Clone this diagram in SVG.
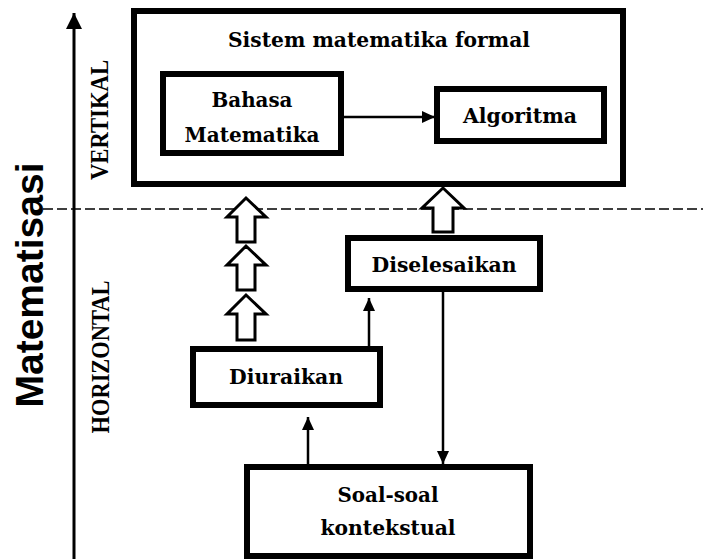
<svg xmlns="http://www.w3.org/2000/svg" width="703" height="559" viewBox="0 0 703 559">
<style>
.box{fill:#fff;stroke:#000;stroke-width:6;stroke-linejoin:miter}
.lbl{font-family:"DejaVu Serif","Liberation Serif",serif;font-weight:bold;font-size:20px;fill:#000;text-anchor:middle}
.side{font-family:"Liberation Serif",serif;font-weight:bold;font-size:25px;fill:#000;text-anchor:middle}
.con{stroke:#000;stroke-width:2.5;fill:none}
.hollow{fill:#fff;stroke:#000;stroke-width:3;stroke-linejoin:miter}
</style>
<defs>
<marker id="ah" markerUnits="userSpaceOnUse" markerWidth="13" markerHeight="12" refX="13" refY="6" orient="auto">
<path d="M0,0 L13,6 L0,12 z" fill="#000"/>
</marker>
<marker id="ahBig" markerUnits="userSpaceOnUse" markerWidth="16" markerHeight="16" refX="16" refY="8" orient="auto">
<path d="M0,0 L16,8 L0,16 z" fill="#000"/>
</marker>
</defs>
<rect width="703" height="559" fill="#fff"/>
<g id="axis">
<line x1="74" y1="559" x2="74" y2="13" stroke="#000" stroke-width="3" marker-end="url(#ahBig)"/>
<text x="0" y="0" transform="translate(43,285) rotate(-90)" font-family="'Liberation Sans',Arial,sans-serif" font-weight="bold" font-size="38" text-anchor="middle" textLength="245" lengthAdjust="spacingAndGlyphs">Matematisasi</text>
<text class="side" transform="translate(108,120) rotate(-90)" textLength="120" lengthAdjust="spacingAndGlyphs">VERTIKAL</text>
<text class="side" transform="translate(109,357) rotate(-90)" textLength="153" lengthAdjust="spacingAndGlyphs">HORIZONTAL</text>
<line x1="43" y1="209" x2="703" y2="209" stroke="#000" stroke-width="1.5" stroke-dasharray="10 4"/>
</g>
<g id="sistem">
<rect class="box" x="134" y="11" width="489" height="173"/>
<text class="lbl" x="379" y="47" textLength="302" lengthAdjust="spacingAndGlyphs">Sistem matematika formal</text>
</g>
<g id="bahasa">
<rect class="box" x="163" y="74" width="178" height="79"/>
<text class="lbl" x="252" y="107" textLength="81" lengthAdjust="spacingAndGlyphs">Bahasa</text>
<text class="lbl" x="252" y="142" textLength="135" lengthAdjust="spacingAndGlyphs">Matematika</text>
</g>
<g id="algoritma">
<rect class="box" x="437" y="89" width="167" height="52"/>
<text class="lbl" x="520" y="123" textLength="114" lengthAdjust="spacingAndGlyphs">Algoritma</text>
</g>
<g id="diselesaikan">
<rect class="box" x="348" y="238" width="192" height="51"/>
<text class="lbl" x="444" y="272" textLength="145" lengthAdjust="spacingAndGlyphs">Diselesaikan</text>
</g>
<g id="diuraikan">
<rect class="box" x="193" y="349" width="187" height="56"/>
<text class="lbl" x="286" y="384" textLength="114" lengthAdjust="spacingAndGlyphs">Diuraikan</text>
</g>
<g id="soal">
<rect class="box" x="247" y="467" width="283" height="89"/>
<text class="lbl" x="388" y="502" textLength="101" lengthAdjust="spacingAndGlyphs">Soal-soal</text>
<text class="lbl" x="388" y="535" textLength="135" lengthAdjust="spacingAndGlyphs">kontekstual</text>
</g>
<g id="connectors">
<line class="con" x1="344" y1="117" x2="435" y2="117" marker-end="url(#ah)"/>
<line class="con" x1="308" y1="464" x2="308" y2="417" marker-end="url(#ah)"/>
<line class="con" x1="369" y1="346" x2="369" y2="298" marker-end="url(#ah)"/>
<line class="con" x1="443" y1="292" x2="443" y2="464" marker-end="url(#ah)"/>
<polygon class="hollow" points="246,198 266,217 255,217 255,242 237,242 237,217 227,217"/>
<polygon class="hollow" points="246,246 266,265 255,265 255,290 237,290 237,265 227,265"/>
<polygon class="hollow" points="246,295 266,314 255,314 255,340 237,340 237,314 227,314"/>
<polygon class="hollow" points="443,188 464,208 453,208 453,232 433,232 433,208 422,208"/>
</g>
</svg>
